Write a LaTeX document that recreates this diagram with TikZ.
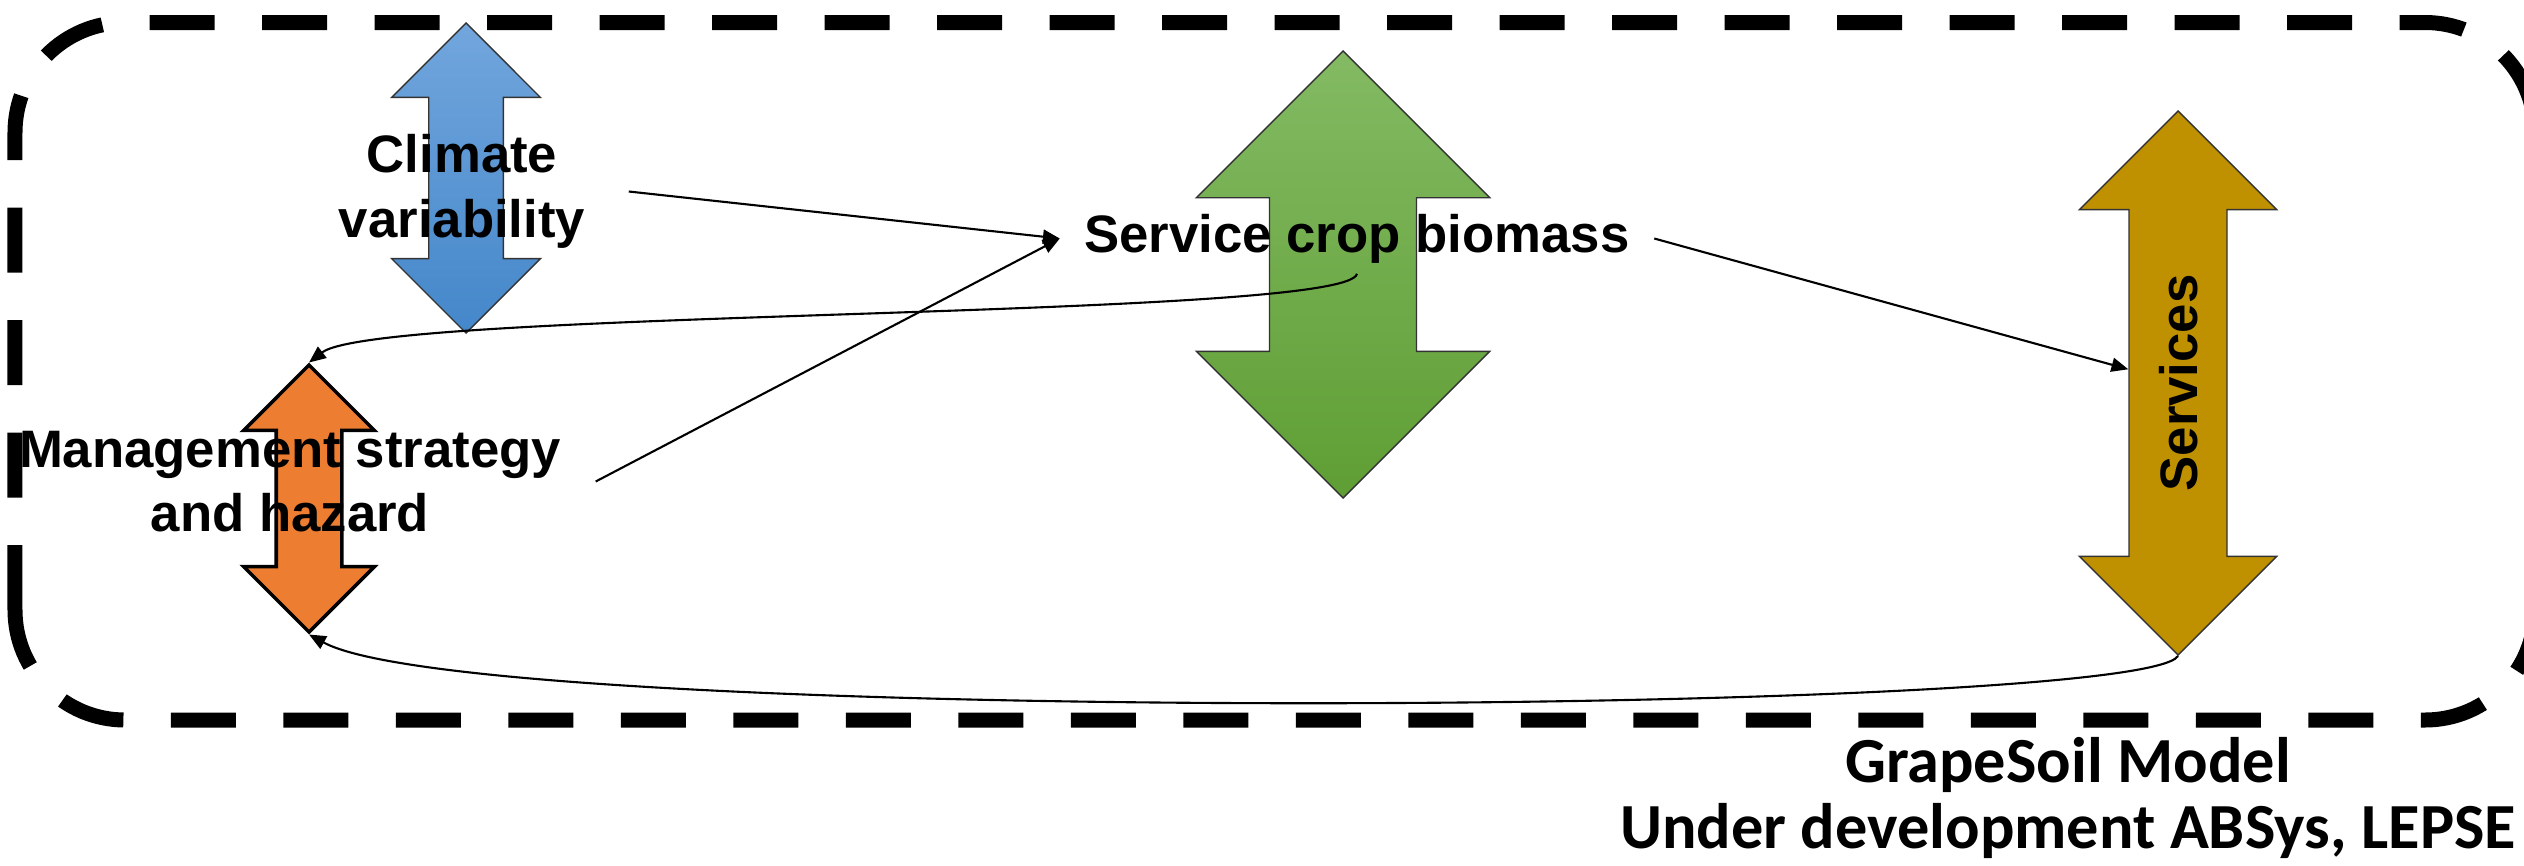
\documentclass[tikz,border=0pt]{standalone}
\usepackage{fontspec}
\setmainfont{Liberation Sans}
\newfontfamily\carlito{Carlito}
\usetikzlibrary{shapes.arrows,arrows.meta,positioning}

\definecolor{climtop}{RGB}{114,166,221}
\definecolor{climbot}{RGB}{68,135,202}
\definecolor{biotop}{RGB}{131,186,99}
\definecolor{biobot}{RGB}{95,158,52}
\definecolor{mgmtfill}{RGB}{237,125,49}
\definecolor{servfill}{RGB}{191,144,0}

\tikzset{
  updown/.style={double arrow, rotate=90, draw=black!80, line width=0.4pt,
    inner xsep=0pt, double arrow tip angle=90},
  lbl/.style={font=\fontsize{15}{18.3}\selectfont\bfseries, align=center,
    inner xsep=0.3cm, inner ysep=0.1cm},
  conn/.style={-{Triangle[length=4.8pt,width=4pt]}, line width=0.6pt},
  boundary/.style={line width=0.15cm, dash pattern=on 0.65cm off 0.475cm,
    rounded corners=1.1cm}
}

\begin{document}
\begin{tikzpicture}
  \useasboundingbox (0,0) rectangle (25.24,8.65);

  % Model boundary
  \draw[boundary] (0.15,1.45) rectangle (25.35,8.425);

  % Double arrows
  \node[updown, minimum height=3.10cm, inner ysep=0.366cm,
        double arrow head extend=0.371cm,
        top color=climtop, bottom color=climbot] (climarrow) at (4.66,6.87) {};
  \node[updown, minimum height=2.67cm, inner ysep=0.31cm,
        double arrow head extend=0.326cm, draw=black, line width=1pt,
        fill=mgmtfill] (mgmtarrow) at (3.09,3.665) {};
  \node[updown, minimum height=4.47cm, inner ysep=0.728cm,
        double arrow head extend=0.732cm,
        top color=biotop, bottom color=biobot] (bioarrow) at (13.43,5.905) {};
  \node[updown, minimum height=5.44cm, text height=0.38cm, text depth=0pt,
        inner ysep=0.293cm, double arrow head extend=0.496cm,
        fill=servfill, font=\fontsize{15}{18.3}\selectfont\bfseries]
        (services) at (21.78,4.82) {Services};

  % Labels
  \node[lbl, inner xsep=0.43cm] (clim) at (4.62,6.735) {Climate\\variability};
  \node[lbl, inner xsep=0.34cm] (mgmt) at (2.90,3.835) {Management strategy\\and hazard};
  \node[lbl, inner xsep=0.24cm] (biomass) at (13.57,6.265) {Service crop biomass};
  \node[font=\carlito\fontsize{18.3}{19}\selectfont\bfseries, align=center,
        inner sep=0pt] (model) at (20.68,0.67)
        {GrapeSoil Model\\Under development ABSys, LEPSE};

  % Links
  \draw[conn] (clim.east) -- (biomass.west);
  \draw[conn] (mgmt.east) -- (biomass.west);
  \draw[conn] (biomass.east) -- (services);
  \draw[conn] (biomass.south) .. controls +(-0.09,-0.46) and +(0.70,0.54) .. (mgmtarrow.tip 1);
  \draw[conn] (services.tip 2) .. controls +(-0.38,-0.60) and +(1.68,-0.92) .. (mgmtarrow.tip 2);

\end{tikzpicture}
\end{document}
